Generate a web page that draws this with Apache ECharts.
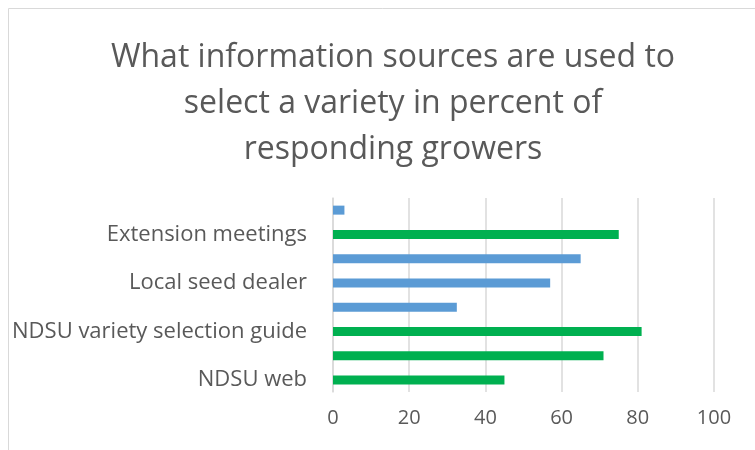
<!DOCTYPE html>
<html>
<head>
<meta charset="utf-8">
<script src="https://cdn.jsdelivr.net/npm/echarts@6/dist/echarts.min.js"></script>
<style>html,body{margin:0;padding:0;background:#fff;}#c{width:755px;height:450px;}</style>
</head>
<body>
<div id="c"></div>
<script>
const categories = ["NDSU web", "NDSU variety trials", "NDSU variety selection guide", "Other growers", "Local seed dealer", "Seed company", "Extension meetings", "Other"];
const values = [45, 71, 81, 32.5, 57, 65, 75, 3];
const barColors = ["#00B050", "#00B050", "#00B050", "#5B9BD5", "#5B9BD5", "#5B9BD5", "#00B050", "#5B9BD5"];
const xTicks = [0, 20, 40, 60, 80, 100];
const titleText = "What information sources are used to\nselect a variety in percent of\nresponding growers";

const chart = echarts.init(document.getElementById('c'));
chart.setOption({
  animation: false,
  graphic: [{
    type: 'rect', shape: {x: 8.5, y: 8.5, width: 900, height: 600},
    style: {fill: 'none', stroke: '#d9d9d9', lineWidth: 1}, z: -1
  }],
  title: {
    text: titleText, left: 388, top: 30, textAlign: 'center',
    textStyle: {fontFamily: 'Open Sans', fontSize: 32, fontWeight: 'normal', color: '#595959', lineHeight: 46}
  },
  grid: {left: 333, right: 41, top: 198, bottom: 58},
  xAxis: {
    type: 'value', min: xTicks[0], max: xTicks[xTicks.length - 1], interval: 20,
    axisLine: {show: false}, axisTick: {show: false},
    axisLabel: {fontFamily: 'Open Sans', fontSize: 20, color: '#595959', margin: 16},
    splitLine: {lineStyle: {color: '#d9d9d9', width: 1.5}}
  },
  yAxis: {
    type: 'category', data: categories,
    axisLine: {show: true, lineStyle: {color: '#d9d9d9', width: 1.5}},
    axisTick: {show: false},
    axisLabel: {interval: 1, fontFamily: 'Open Sans', fontSize: 22, color: '#595959', margin: 26}
  },
  series: [{
    type: 'bar', barWidth: 9,
    data: values.map((v, i) => ({value: v, itemStyle: {color: barColors[i]}}))
  }]
});
</script>
</body>
</html>
